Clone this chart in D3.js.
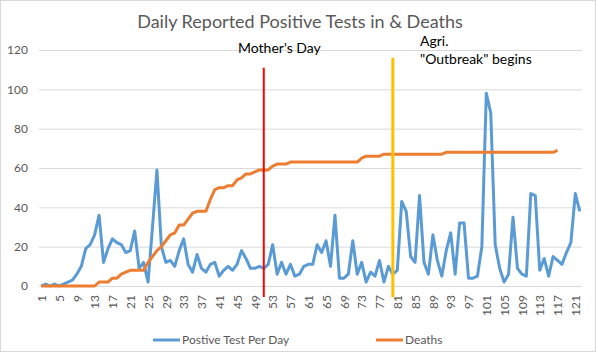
<!DOCTYPE html>
<html>
<head>
<meta charset="utf-8">
<script src="https://cdn.jsdelivr.net/npm/d3@7"></script>
<style>
  body { margin: 0; background: #fff; }
  text { font-family: Lato, "Noto Sans", sans-serif; }
</style>
</head>
<body>
<div id="plot"></div>
<script>
// Day numbers 1..122
var days = d3.range(1, 123);

// Positive tests per day
var positives = [0, 1, 0, 1, 0, 1, 2, 3, 6, 10,
  19, 21, 26, 36, 12, 19, 24, 22, 21, 17,
  18, 28, 9, 12, 2, 30, 59, 20, 12, 13,
  10, 18, 24, 11, 7, 16, 9, 7, 11, 12,
  5, 8, 10, 8, 11, 18, 14, 9, 9, 10,
  9, 11, 21, 6, 12, 6, 11, 5, 6, 10,
  11, 11, 21, 17, 23, 10, 36, 4, 4, 6,
  23, 6, 12, 2, 7, 5, 13, 2, 10, 6,
  8, 43, 38, 15, 12, 46, 12, 6, 26, 13,
  5, 18, 27, 6, 32, 32, 4, 4, 5, 20,
  98, 88, 21, 9, 2, 6, 35, 9, 6, 5,
  47, 46, 8, 14, 5, 15, 13, 11, 17, 22,
  47, 38];

// Cumulative deaths (ends on day 117)
var deaths = [0, 0, 0, 0, 0, 0, 0, 0, 0, 0,
  0, 0, 0, 2, 2, 2, 4, 4, 6, 7,
  8, 8, 8, 8, 12, 15, 18, 20, 23, 26,
  27, 31, 31, 34, 37, 38, 38, 38, 44, 49,
  50, 50, 51, 51, 54, 55, 57, 57, 58, 59,
  59, 59, 61, 62, 62, 62, 63, 63, 63, 63,
  63, 63, 63, 63, 63, 63, 63, 63, 63, 63,
  63, 63, 65, 66, 66, 66, 66, 67, 67, 67,
  67, 67, 67, 67, 67, 67, 67, 67, 67, 67,
  67, 68, 68, 68, 68, 68, 68, 68, 68, 68,
  68, 68, 68, 68, 68, 68, 68, 68, 68, 68,
  68, 68, 68, 68, 68, 68, 69];

var yTicks = [0, 20, 40, 60, 80, 100, 120];
var xTickLabels = days.filter(function(d) { return (d - 1) % 4 == 0; });

// vertical marker lines: day, top value, label lines
var markerDays = [51, 80];
var markerTops = [111, 116];
var markerColors = ["#FF0000", "#FFC000"];
var markerLabels = [["Mother's Day"], ["Agri.", "\"Outbreak\" begins"]];

var seriesNames = ["Postive Test Per Day", "Deaths"];
var seriesColors = ["#5B9BD5", "#ED7D31"];

var chartWidth = 596;
var chartHeight = 352;
const margin = {top: 50, right: 14, bottom: 66, left: 39};

var svg = d3.select("#plot")
     .append("svg")
     .attr("width", chartWidth)
     .attr("height", chartHeight);

// chart border
svg.append("rect")
     .attr("x", 0.5).attr("y", 0.5)
     .attr("width", chartWidth - 1).attr("height", chartHeight - 1)
     .attr("fill", "#fff")
     .attr("stroke", "#D9D9D9");

var x = d3.scalePoint()
     .domain(days)
     .range([margin.left, chartWidth - margin.right])
     .padding(0.5);

var y = d3.scaleLinear()
     .domain([0, 120])
     .range([chartHeight - margin.bottom, margin.top]);

// title
svg.append("text")
     .attr("x", 300)
     .attr("y", 28)
     .attr("text-anchor", "middle")
     .attr("fill", "#595959")
     .style("font-size", "18px")
     .text("Daily Reported Positive Tests in & Deaths");

// gridlines
svg.append("g")
     .attr("transform", "translate(" + margin.left + ",0)")
     .call(d3.axisLeft(y).tickValues(yTicks).tickSize(-(chartWidth - margin.left - margin.right)).tickPadding(11))
     .call(function(g) {
          g.select(".domain").remove();
          g.selectAll("line").attr("stroke", "#D9D9D9");
          g.selectAll("text").attr("fill", "#595959").style("font-size", "12px");
     });

// x axis labels rotated
svg.append("g")
     .attr("transform", "translate(0," + y(0) + ")")
     .call(d3.axisBottom(x).tickValues(xTickLabels).tickSize(0))
     .call(function(g) {
          g.select(".domain").remove();
          g.selectAll("text")
               .attr("fill", "#595959")
               .style("font-size", "12px")
               .style("text-anchor", "end")
               .attr("x", -9)
               .attr("y", 0)
               .attr("dy", "0.35em")
               .attr("transform", "rotate(-90)");
     });

var line = d3.line()
     .x(function(d) { return x(d[0]); })
     .y(function(d) { return y(d[1]); });

svg.append("path")
     .datum(days.map(function(d, i) { return [d, positives[i]]; }))
     .attr("fill", "none")
     .attr("stroke", seriesColors[0])
     .attr("stroke-width", 3)
     .attr("stroke-linejoin", "round")
     .attr("d", line);

svg.append("path")
     .datum(deaths.map(function(v, i) { return [days[i], v]; }))
     .attr("fill", "none")
     .attr("stroke", seriesColors[1])
     .attr("stroke-width", 3)
     .attr("stroke-linejoin", "round")
     .attr("d", line);

// marker lines + labels
markerDays.forEach(function(d, i) {
     svg.append("line")
          .attr("x1", x(d)).attr("x2", x(d))
          .attr("y1", y(markerTops[i])).attr("y2", y(0) + 11)
          .attr("stroke", markerColors[i])
          .attr("stroke-width", i == 0 ? 2 : 3);
});

svg.append("text")
     .attr("x", 238).attr("y", 53)
     .attr("fill", "#000")
     .style("font-size", "14px")
     .text(markerLabels[0][0]);

markerLabels[1].forEach(function(t, j) {
     svg.append("text")
          .attr("x", 420).attr("y", 46 + j * 18)
          .attr("fill", "#000")
          .style("font-size", "14px")
          .text(t);
});

// legend
var legendX = [153, 376];
seriesNames.forEach(function(name, i) {
     svg.append("line")
          .attr("x1", legendX[i]).attr("x2", legendX[i] + 27)
          .attr("y1", 340).attr("y2", 340)
          .attr("stroke", seriesColors[i])
          .attr("stroke-width", 3);
     svg.append("text")
          .attr("x", legendX[i] + 29)
          .attr("y", 344)
          .attr("fill", "#595959")
          .style("font-size", "12px")
          .text(name);
});
</script>
</body>
</html>
